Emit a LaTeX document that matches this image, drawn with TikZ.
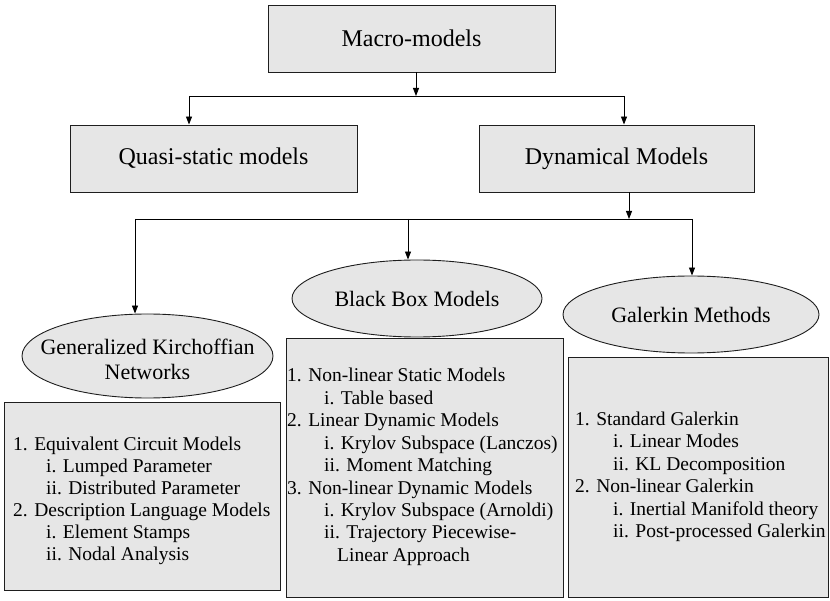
\documentclass[tikz,border=0pt]{standalone}
\usepackage{fontspec}
\setmainfont{Liberation Serif}
\usetikzlibrary{arrows.meta,shapes.geometric}
\definecolor{boxfill}{RGB}{230,230,230}
\definecolor{edge}{RGB}{30,30,30}
\begin{document}
\begin{tikzpicture}[x=1pt,y=-1pt,
 box/.style={draw=edge,line width=0.9pt,fill=boxfill,rectangle,inner sep=0pt},
 oval/.style={draw=edge,line width=0.9pt,fill=boxfill,ellipse,inner sep=0pt},
 ovaltext/.style={inner sep=0pt,align=center,font=\fontsize{22}{25}\selectfont},
 title/.style={font=\fontsize{24}{28}\selectfont},
 item/.style={anchor=base west,inner sep=0pt,font=\fontsize{19.5}{22}\selectfont},
 conn/.style={line width=0.9pt,-{Triangle[length=8pt,width=6pt]}},
 wire/.style={line width=0.9pt}]
\useasboundingbox (0,0) rectangle (830,601);

% top level boxes
\node[box,title,minimum width=287pt,minimum height=67pt] (macro) at (411.5,38.5) {Macro-models};
\node[box,title,minimum width=287pt,minimum height=67pt] (quasi) at (213.5,158.5) {Quasi-static models};
\node[box,title,minimum width=275pt,minimum height=67pt] (dyn) at (616.5,158.5) {Dynamical Models};

% ellipses
\node[oval,minimum width=251pt,minimum height=84pt,
  label={[ovaltext,name=gktext,yshift=-3pt]center:Generalized Kirchoffian\\Networks}] (gk) at (147.5,356) {};
\node[oval,minimum width=250pt,minimum height=77pt,
  label={[ovaltext,name=bbtext]center:Black Box Models}] (bb) at (417,298.5) {};
\node[oval,minimum width=256pt,minimum height=77pt,
  label={[ovaltext,name=galtext]center:Galerkin Methods}] (gal) at (691,314.5) {};

% list boxes
\node[box,minimum width=276pt,minimum height=188pt] (gklist) at (142,496) {};
\node[box,minimum width=277pt,minimum height=259pt] (bblist) at (424.5,467.5) {};
\node[box,minimum width=260pt,minimum height=240pt] (gallist) at (698,477) {};

% list texts: Generalized Kirchoffian Networks
\node[item] (gk1) at (13,450) {1. Equivalent Circuit Models};
\node[item] (gk2) at (46,472) {i. Lumped Parameter};
\node[item] (gk3) at (46,494) {ii. Distributed Parameter};
\node[item] (gk4) at (13,516) {2. Description Language Models};
\node[item] (gk5) at (46,538) {i. Element Stamps};
\node[item] (gk6) at (46,560) {ii. Nodal Analysis};

% list texts: Black Box Models
\node[item] (bb1) at (287,382) {1. Non-linear Static Models};
\node[item] (bb2) at (324,404.4) {i. Table based};
\node[item] (bb3) at (287,426.8) {2. Linear Dynamic Models};
\node[item] (bb4) at (324,449.2) {i. Krylov Subspace (Lanczos)};
\node[item] (bb5) at (324,471.6) {ii. Moment Matching};
\node[item] (bb6) at (287,494) {3. Non-linear Dynamic Models};
\node[item] (bb7) at (324,516.4) {i. Krylov Subspace (Arnoldi)};
\node[item] (bb8) at (324,538.8) {ii. Trajectory Piecewise-};
\node[item] (bb9) at (337,561.2) {Linear Approach};

% list texts: Galerkin Methods
\node[item] (ga1) at (575,425) {1. Standard Galerkin};
\node[item] (ga2) at (613,447.5) {i. Linear Modes};
\node[item] (ga3) at (613,470) {ii. KL Decomposition};
\node[item] (ga4) at (575,492.5) {2. Non-linear Galerkin};
\node[item] (ga5) at (613,515) {i. Inertial Manifold theory};
\node[item] (ga6) at (613,537.5) {ii. Post-processed Galerkin};

% connectors, first level
\coordinate (j1) at (416,96);
\coordinate (j1l) at (189,96);
\coordinate (j1r) at (624,96);
\draw[conn] (macro.south -| j1) -- (j1);
\draw[wire] (j1l) -- (j1r);
\draw[conn] (j1l) -- (j1l |- quasi.north);
\draw[conn] (j1r) -- (j1r |- dyn.north);

% connectors, second level
\coordinate (j2) at (629,219);
\coordinate (j2l) at (135,219);
\coordinate (j2m) at (408,219);
\coordinate (j2r) at (692,219);
\draw[conn] (dyn.south -| j2) -- (j2);
\draw[wire] (j2l) -- (j2r);
\draw[conn] (j2l) -- (j2l |- gk.north);
\draw[conn] (j2m) -- (j2m |- bb.north);
\draw[conn] (j2r) -- (j2r |- gal.north);
\end{tikzpicture}
\end{document}
